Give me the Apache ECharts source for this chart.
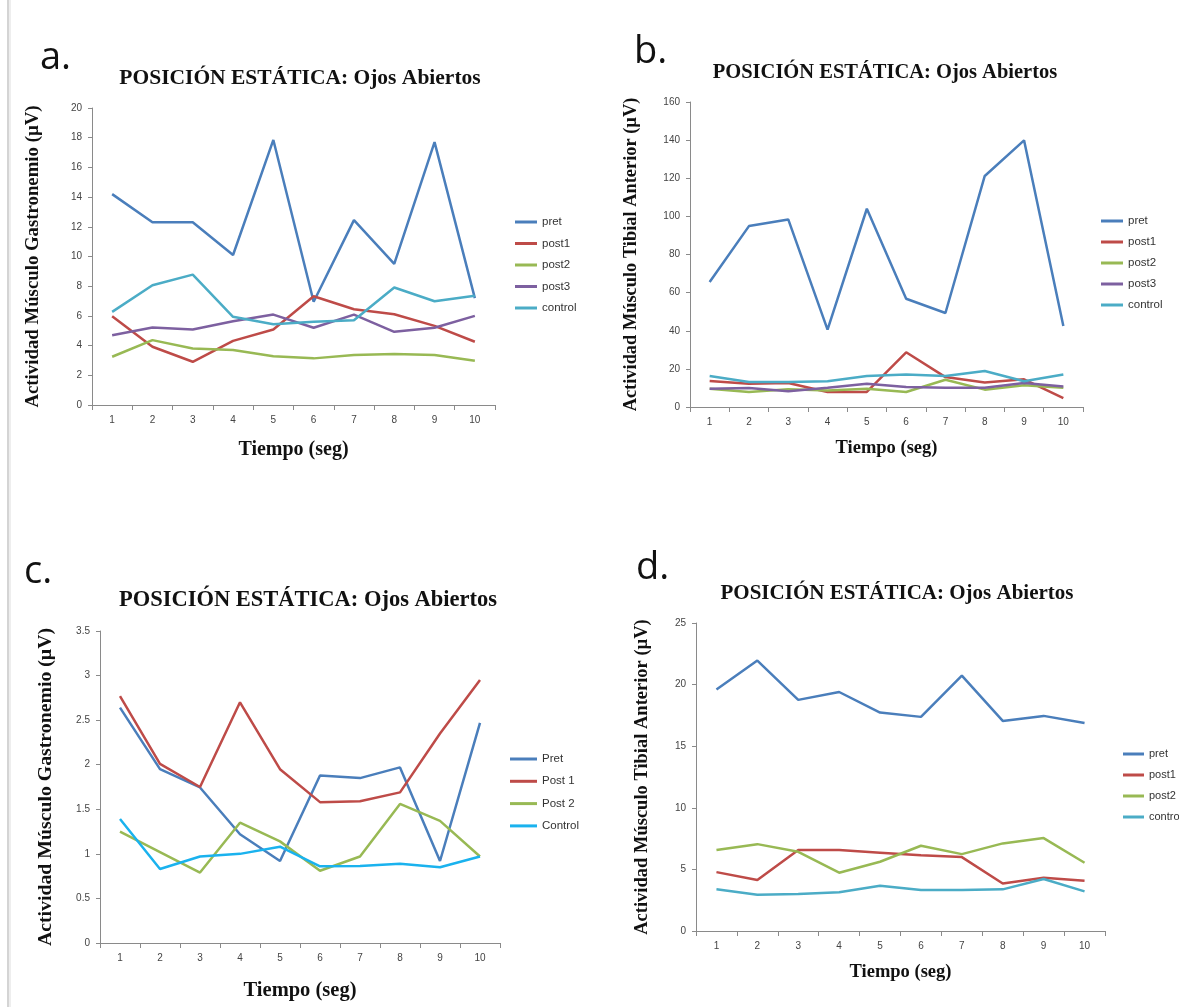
<!DOCTYPE html>
<html><head><meta charset="utf-8">
<script src="https://cdn.jsdelivr.net/npm/echarts@6/dist/echarts.min.js"></script>
<style>html,body{margin:0;padding:0;background:#fff}#c{width:1179px;height:1007px}</style>
</head><body><div id="c"></div>
<script>
// ---------- data ----------
const categories = ['1','2','3','4','5','6','7','8','9','10'];

// panel a: Gastronemio (4 post groups)
const aPret    = [14.2, 12.3, 12.3, 10.1, 17.85, 6.95, 12.45, 9.5, 17.7, 7.2];
const aPost1   = [5.98, 3.92, 2.91, 4.32, 5.08, 7.32, 6.45, 6.11, 5.33, 4.26];
const aPost2   = [3.25, 4.37, 3.81, 3.70, 3.29, 3.14, 3.36, 3.43, 3.36, 2.98];
const aPost3   = [4.70, 5.22, 5.08, 5.64, 6.09, 5.20, 6.09, 4.93, 5.20, 6.00];
const aControl = [6.27, 8.06, 8.78, 5.94, 5.44, 5.60, 5.71, 7.91, 6.99, 7.35];

// panel b: Tibial Anterior
const bPret    = [65.6, 94.9, 98.4, 40.6, 104.0, 56.8, 49.3, 121.2, 139.9, 42.5];
const bPost1   = [13.6, 12.2, 12.6, 7.9, 7.9, 28.7, 15.7, 12.8, 14.5, 4.7];
const bPost2   = [9.6, 7.9, 9.3, 8.7, 9.6, 7.9, 14.3, 9.1, 11.4, 10.1];
const bPost3   = [9.6, 10.0, 8.2, 10.1, 12.2, 10.5, 10.1, 10.1, 12.6, 10.8];
const bControl = [16.3, 13.1, 13.1, 13.5, 16.3, 17.1, 16.3, 18.9, 13.5, 17.1];

// panel c: Gastronemio
const cPret    = [2.64, 1.95, 1.745, 1.22, 0.92, 1.88, 1.85, 1.97, 0.92, 2.47];
const cPost1   = [2.77, 2.01, 1.75, 2.70, 1.95, 1.58, 1.59, 1.69, 2.35, 2.95];
const cPost2   = [1.25, 1.02, 0.79, 1.35, 1.14, 0.81, 0.97, 1.56, 1.37, 0.97];
const cControl = [1.39, 0.83, 0.97, 1.00, 1.08, 0.86, 0.865, 0.89, 0.85, 0.97];

// panel d: Tibial Anterior
const dPret    = [19.6, 21.95, 18.76, 19.4, 17.73, 17.38, 20.73, 17.05, 17.46, 16.89];
const dPost1   = [4.78, 4.14, 6.57, 6.57, 6.35, 6.14, 6.0, 3.86, 4.32, 4.08];
const dPost2   = [6.57, 7.05, 6.43, 4.73, 5.62, 6.92, 6.24, 7.11, 7.54, 5.54];
const dControl = [3.38, 2.95, 3.0, 3.14, 3.68, 3.32, 3.32, 3.38, 4.22, 3.22];

const titleText = 'POSICIÓN ESTÁTICA: Ojos Abiertos';
const xName = 'Tiempo (seg)';
const yNameGastro = 'Actividad Músculo Gastronemio (µV)';
const yNameTibial = 'Actividad Músculo Tibial Anterior (µV)';

// ---------- styling ----------
const COL = {pret:'#4A7EBB', post1:'#BE4B48', post2:'#98B954', post3:'#7D60A0', control:'#4BACC6', controlC:'#1AB2EE'};
const serif = '"Liberation Serif", "DejaVu Serif", serif';
const sans = '"Liberation Sans", Arial, sans-serif';

const panels = [
  { grid:{left:92, top:108, width:403, height:297}, y:{max:20, interval:2}, yName:yNameGastro, yGap:49, yNameSize:18.8, xGap:35, xNameSize:20,
    legend:{left:515, top:215, w:22, gap:7.5, fs:11.5},
    series:[['pret',aPret,COL.pret],['post1',aPost1,COL.post1],['post2',aPost2,COL.post2],['post3',aPost3,COL.post3],['control',aControl,COL.control]] },
  { grid:{left:690, top:102, width:393, height:305}, y:{max:160, interval:20}, yName:yNameTibial, yGap:50, yNameSize:18.4, xGap:32, xNameSize:18.5,
    legend:{left:1101, top:214, w:22, gap:7, fs:11.5},
    series:[['pret',bPret,COL.pret],['post1',bPost1,COL.post1],['post2',bPost2,COL.post2],['post3',bPost3,COL.post3],['control',bControl,COL.control]] },
  { grid:{left:100, top:631, width:400, height:312}, y:{max:3.5, interval:0.5}, yName:yNameGastro, yGap:44, yNameSize:19.8, xGap:37, xNameSize:20.5,
    legend:{left:510, top:752, w:27, gap:8.3, fs:11.5},
    series:[['Pret',cPret,COL.pret],['Post 1',cPost1,COL.post1],['Post 2',cPost2,COL.post2],['Control',cControl,COL.controlC]] },
  { grid:{left:696, top:623, width:409, height:308}, y:{max:25, interval:5}, yName:yNameTibial, yGap:44, yNameSize:18.5, xGap:32, xNameSize:18.5,
    legend:{left:1123, top:747, w:21, gap:7, fs:11},
    series:[['pret',dPret,COL.pret],['post1',dPost1,COL.post1],['post2',dPost2,COL.post2],['control',dControl,COL.control]] }
];

const grid = [], xAxis = [], yAxis = [], series = [], legend = [];
panels.forEach((p, i) => {
  grid.push(Object.assign({containLabel:false}, p.grid));
  xAxis.push({
    type:'category', gridIndex:i, data:categories, boundaryGap:true,
    axisLine:{lineStyle:{color:'#8a8a8a', width:1}},
    axisTick:{show:true, length:5, lineStyle:{color:'#8a8a8a'}},
    axisLabel:{color:'#444', fontFamily:sans, fontSize:10, margin:10},
    splitLine:{show:false},
    name:xName, nameLocation:'middle', nameGap:p.xGap,
    nameTextStyle:{fontFamily:serif, fontWeight:'bold', fontSize:p.xNameSize, color:'#111'}
  });
  yAxis.push({
    type:'value', gridIndex:i, min:0, max:p.y.max, interval:p.y.interval,
    axisLine:{show:true, lineStyle:{color:'#8a8a8a', width:1}},
    axisTick:{show:true, length:4, lineStyle:{color:'#8a8a8a'}},
    axisLabel:{color:'#444', fontFamily:sans, fontSize:10, margin:10},
    splitLine:{show:false},
    name:p.yName, nameLocation:'middle', nameGap:p.yGap, nameRotate:90,
    nameTextStyle:{fontFamily:serif, fontWeight:'bold', fontSize:p.yNameSize, color:'#111'}
  });
  p.series.forEach(([name, data, color]) => {
    series.push({
      type:'line', name, data, xAxisIndex:i, yAxisIndex:i, color,
      symbol:'none', showSymbol:false, smooth:false, animation:false,
      lineStyle:{width:2.5, color}
    });
  });
  legend.push({
    orient:'vertical', left:p.legend.left, top:p.legend.top, padding:0,
    itemWidth:p.legend.w, itemHeight:3, itemGap:p.legend.gap, icon:'rect',
    data:p.series.map(s => s[0]),
    textStyle:{fontFamily:sans, fontSize:p.legend.fs, color:'#333', lineHeight:14}
  });
});

const graphic = [
  {type:'rect', shape:{x:7, y:0, width:2, height:1007}, style:{fill:'#d4d4d4'}, silent:true},
  {type:'rect', shape:{x:9, y:0, width:2, height:1007}, style:{fill:'#eeeeee'}, silent:true},
  {type:'text', x:40, y:58, style:{text:'a.', font:'38px "Open Sans", sans-serif', fill:'#111', textAlign:'left', textVerticalAlign:'middle'}},
  {type:'text', x:634, y:52, style:{text:'b.', font:'38px "Open Sans", sans-serif', fill:'#111', textAlign:'left', textVerticalAlign:'middle'}},
  {type:'text', x:24, y:572, style:{text:'c.', font:'38px "Open Sans", sans-serif', fill:'#111', textAlign:'left', textVerticalAlign:'middle'}},
  {type:'text', x:636, y:568, style:{text:'d.', font:'38px "Open Sans", sans-serif', fill:'#111', textAlign:'left', textVerticalAlign:'middle'}},
  {type:'text', x:300, y:78, style:{text:titleText, font:'bold 21.5px ' + serif, fill:'#111', textAlign:'center', textVerticalAlign:'middle'}},
  {type:'text', x:885, y:73, style:{text:titleText, font:'bold 20.5px ' + serif, fill:'#111', textAlign:'center', textVerticalAlign:'middle'}},
  {type:'text', x:308, y:600, style:{text:titleText, font:'bold 22.5px ' + serif, fill:'#111', textAlign:'center', textVerticalAlign:'middle'}},
  {type:'text', x:897, y:594, style:{text:titleText, font:'bold 21px ' + serif, fill:'#111', textAlign:'center', textVerticalAlign:'middle'}}
];

const chart = echarts.init(document.getElementById('c'), null, {renderer:'canvas'});
chart.setOption({backgroundColor:'#ffffff', animation:false, grid, xAxis, yAxis, series, legend, graphic});
</script>
</body></html>
